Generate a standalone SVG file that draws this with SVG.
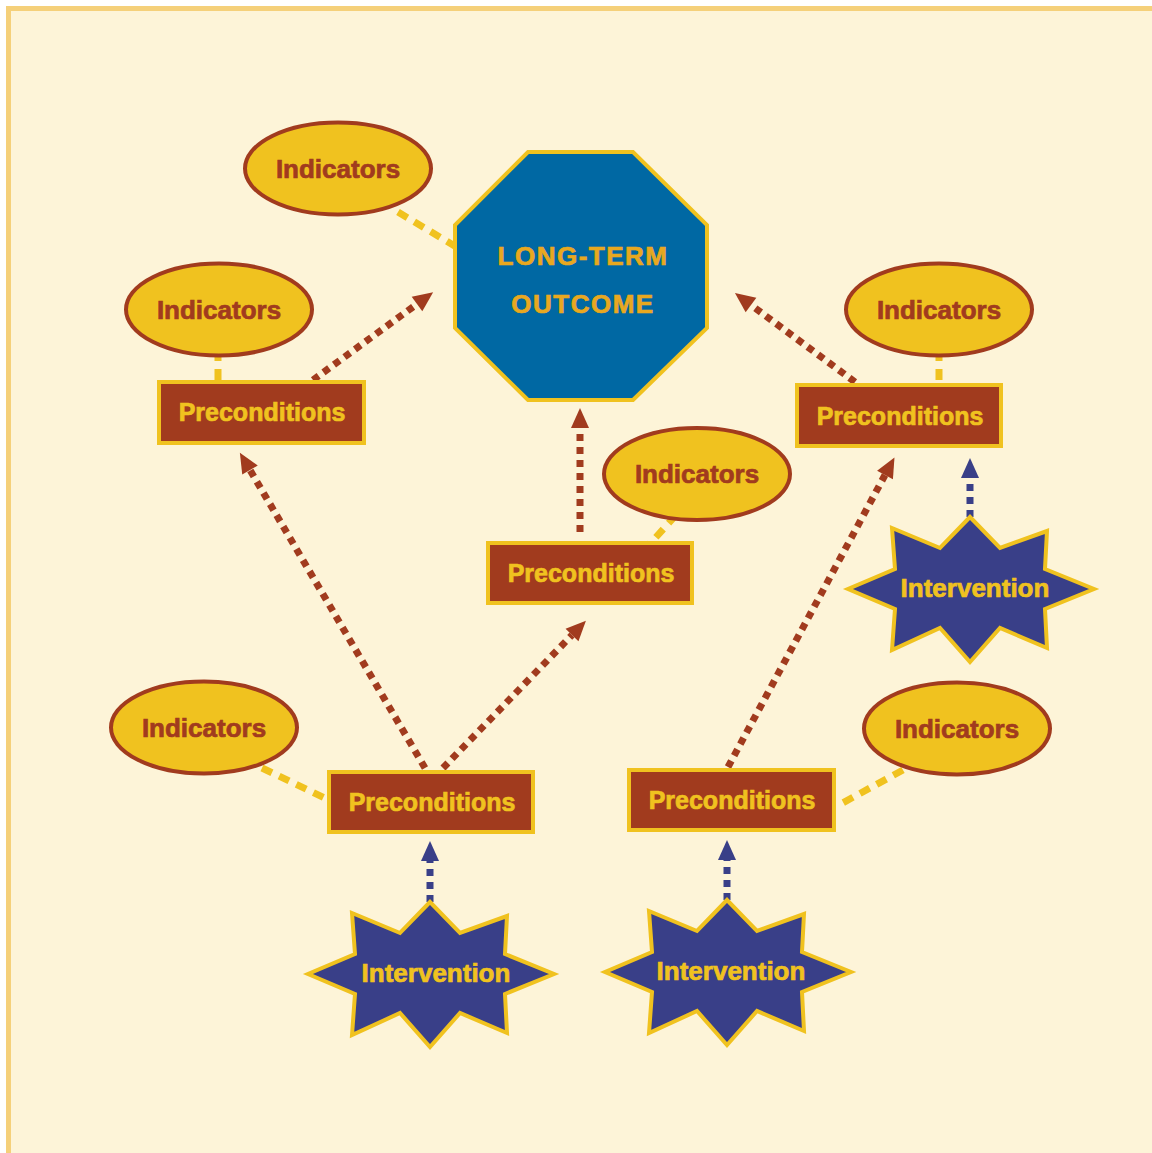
<svg xmlns="http://www.w3.org/2000/svg" width="1152" height="1153" viewBox="0 0 1152 1153">
<style>
.ind ellipse{fill:#f0c21f;stroke:#a13b1e;stroke-width:4}
.ind text{fill:#a13b1e;stroke:#a13b1e;stroke-width:0.7;font-family:"Liberation Sans",Arial,sans-serif;font-weight:bold;font-size:26px;text-anchor:middle}
.pre rect{fill:#a13b1e;stroke:#f0c21f;stroke-width:4}
.pre text{fill:#f0c21f;stroke:#f0c21f;stroke-width:0.7;font-family:"Liberation Sans",Arial,sans-serif;font-weight:bold;font-size:25px;text-anchor:middle}
.int use{fill:#393f88;stroke:#f0c21f;stroke-width:4;stroke-linejoin:miter}
.int text{fill:#f0c21f;stroke:#f0c21f;stroke-width:0.7;font-family:"Liberation Sans",Arial,sans-serif;font-weight:bold;font-size:26px;text-anchor:middle}
.out text{fill:#e8a820;stroke:#e8a820;stroke-width:0.7;font-family:"Liberation Sans",Arial,sans-serif;font-weight:bold;font-size:26px;text-anchor:middle;letter-spacing:1.5px}
.br{stroke:#a13b1e;stroke-width:7;stroke-dasharray:7 6;fill:none;marker-end:url(#ab)}
.bl{stroke:#393f88;stroke-width:7;stroke-dasharray:7 6;fill:none;marker-end:url(#an)}
.ye{stroke:#f0c21f;stroke-width:7;stroke-dasharray:11 8;fill:none}
</style>
<defs>
<marker id="ab" markerUnits="userSpaceOnUse" viewBox="-2 -10 24 20" markerWidth="24" markerHeight="20" refX="0" refY="0" orient="auto"><path d="M0,-9 L20,0 L0,9 Z" fill="#a13b1e"/></marker>
<marker id="an" markerUnits="userSpaceOnUse" viewBox="-2 -10 24 20" markerWidth="24" markerHeight="20" refX="0" refY="0" orient="auto"><path d="M0,-9 L20,0 L0,9 Z" fill="#393f88"/></marker>
<path id="star" d="M0,-72 L30,-41 L77,-58 L75,-20 L124,0 L75,20 L77,59 L30,39 L0,73 L-30,39 L-78,61 L-75,20 L-122,0 L-75,-20 L-78,-61 L-30,-41 Z"/>
</defs>
<rect x="0" y="0" width="1152" height="1153" fill="#ffffff"/>
<rect x="8.5" y="8.5" width="1160" height="1160" fill="#fdf4d8" stroke="#f5d07a" stroke-width="5"/>
<g id="connectors">
<line class="ye" x1="398" y1="212" x2="458" y2="248"/>
<line class="ye" x1="218" y1="350" x2="218" y2="386"/>
<line class="ye" x1="676" y1="515" x2="648" y2="546"/>
<line class="ye" x1="939" y1="350" x2="939" y2="389"/>
<line class="ye" x1="262" y1="768" x2="331" y2="801"/>
<line class="ye" x1="903" y1="770" x2="837" y2="806"/>
<line class="br" x1="313" y1="380" x2="417" y2="304"/>
<line class="br" x1="580" y1="532" x2="580" y2="428"/>
<line class="br" x1="855" y1="382" x2="751" y2="305"/>
<line class="br" x1="425" y1="768" x2="250" y2="470"/>
<line class="br" x1="443" y1="768" x2="572" y2="635"/>
<line class="br" x1="728" y1="767" x2="885" y2="475"/>
<line class="bl" x1="430" y1="902" x2="430" y2="861"/>
<line class="bl" x1="727" y1="900" x2="727" y2="860"/>
<line class="bl" x1="970" y1="517" x2="970" y2="478"/>
</g>
<g id="outcome" class="out">
<polygon points="528,152 633,152 707,225 707,328 633,400 528,400 455,328 455,225" fill="#0068a3" stroke="#f0c21f" stroke-width="4"/>
<text x="583" y="265">LONG-TERM</text>
<text x="583" y="313">OUTCOME</text>
</g>
<g id="ind1" class="ind"><ellipse cx="338" cy="168.5" rx="93" ry="46"/><text x="338" y="178">Indicators</text></g>
<g id="ind2" class="ind"><ellipse cx="219" cy="309.5" rx="93" ry="46"/><text x="219" y="319">Indicators</text></g>
<g id="ind3" class="ind"><ellipse cx="697" cy="474" rx="93" ry="46"/><text x="697" y="483">Indicators</text></g>
<g id="ind4" class="ind"><ellipse cx="939" cy="309.5" rx="93" ry="46"/><text x="939" y="319">Indicators</text></g>
<g id="ind5" class="ind"><ellipse cx="204" cy="727.5" rx="93" ry="46"/><text x="204" y="737">Indicators</text></g>
<g id="ind6" class="ind"><ellipse cx="957" cy="728.5" rx="93" ry="46"/><text x="957" y="738">Indicators</text></g>
<g id="pre1" class="pre"><rect x="159" y="382" width="205" height="61"/><text x="262" y="421">Preconditions</text></g>
<g id="pre2" class="pre"><rect x="488" y="543" width="204" height="60"/><text x="591" y="582">Preconditions</text></g>
<g id="pre3" class="pre"><rect x="797" y="385" width="204" height="61"/><text x="900" y="425">Preconditions</text></g>
<g id="pre4" class="pre"><rect x="329" y="772" width="204" height="60"/><text x="432" y="811">Preconditions</text></g>
<g id="pre5" class="pre"><rect x="629" y="770" width="205" height="60"/><text x="732" y="809">Preconditions</text></g>
<g id="int1" class="int"><use href="#star" transform="translate(430,974)"/><text x="436" y="982">Intervention</text></g>
<g id="int2" class="int"><use href="#star" transform="translate(727,972)"/><text x="731" y="980">Intervention</text></g>
<g id="int3" class="int"><use href="#star" transform="translate(970,589)"/><text x="975" y="597">Intervention</text></g>
</svg>
